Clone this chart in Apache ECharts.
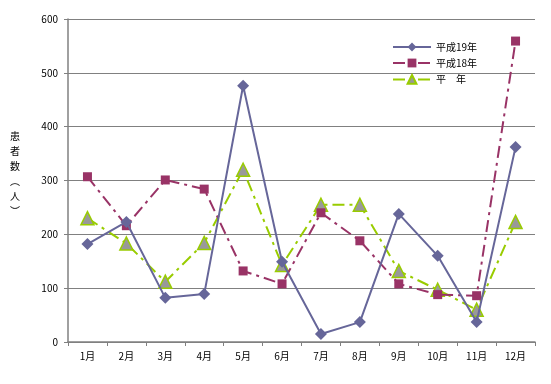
<!DOCTYPE html>
<html><head><meta charset="utf-8">
<script src="https://cdn.jsdelivr.net/npm/echarts@6/dist/echarts.min.js"></script>
<style>html,body{margin:0;padding:0;background:#fff}#c{width:551px;height:384px}</style>
</head><body><div id="c"></div>
<script>
var categories = ['1月','2月','3月','4月','5月','6月','7月','8月','9月','10月','11月','12月'];
var yTicks = [0,100,200,300,400,500,600];
var seriesNames = ['平成19年','平成18年','平　年'];
var h19 = [182,223,82,89,476,149,15,37,238,160,37,362];
var h18 = [307,216,301,284,132,108,240,188,108,88,86,559];
var heinen = [230,183,112,184,320,143,255,255,132,97,60,223];
var yTitle = '患\n者\n数\n︵\n人\n︶';

var font = '"Noto Sans CJK JP", "Noto Sans", sans-serif';
var chart = echarts.init(document.getElementById('c'), null, {renderer:'canvas'});
chart.setOption({
  backgroundColor:'#ffffff',
  animation:false,
  grid:{left:68, right:16, top:19, bottom:42},
  legend:{
    orient:'vertical', left:387, top:37, itemWidth:38, itemHeight:11, itemGap:6,
    textStyle:{fontFamily:font, fontSize:10, color:'#000'},
    data:seriesNames
  },
  graphic:[{type:'text', left:10, top:129, style:{text:yTitle, font:'10px '+font, lineHeight:15, fill:'#000', align:'center'}}],
  xAxis:{
    type:'category', data:categories, boundaryGap:true,
    axisLine:{lineStyle:{color:'#808080', width:1.5}},
    axisTick:{show:true, length:4, lineStyle:{color:'#808080'}},
    axisLabel:{fontFamily:font, fontSize:10, color:'#000', margin:9}
  },
  yAxis:{
    type:'value', min:0, max:600, interval:100,
    axisLine:{show:true, lineStyle:{color:'#808080', width:1.5}},
    axisTick:{show:true, inside:false, length:4, lineStyle:{color:'#808080'}},
    splitLine:{lineStyle:{color:'#808080', width:1.2}},
    axisLabel:{fontFamily:font, fontSize:10, color:'#000', margin:10,
      formatter:function(v){return yTicks.indexOf(v)>=0? String(v):'';}}
  },
  series:[
    {name:seriesNames[0], type:'line', data:h19, symbol:'diamond', symbolSize:12,
     lineStyle:{color:'#666699', width:2}, itemStyle:{color:'#666699'}, z:3},
    {name:seriesNames[1], type:'line', data:h18, symbol:'rect', symbolSize:9,
     lineStyle:{color:'#993366', width:2, type:[12,5,3,5]}, itemStyle:{color:'#993366'}, z:2},
    {name:seriesNames[2], type:'line', data:heinen, symbol:'triangle', symbolSize:13,
     lineStyle:{color:'#99CC00', width:2, type:[12,5,3,5]},
     itemStyle:{color:'#999999', borderColor:'#99CC00', borderWidth:1.5}, z:1}
  ]
});
</script></body></html>
